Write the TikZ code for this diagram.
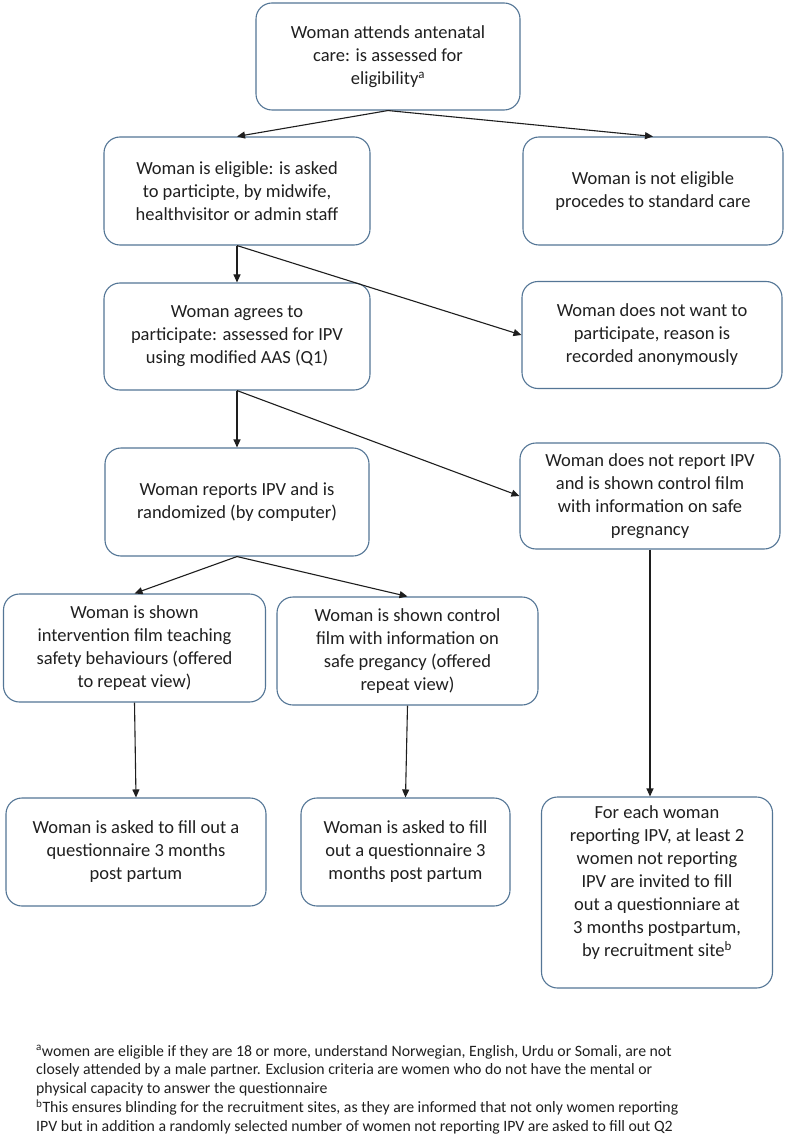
\documentclass[tikz,border=0pt]{standalone}
\usepackage{fontspec}
\setmainfont{Carlito}
\usetikzlibrary{arrows.meta}
\definecolor{bordercol}{RGB}{84,118,150}
\definecolor{textcol}{RGB}{32,32,32}
\definecolor{arrowcol}{RGB}{30,30,30}
\tikzset{
  box/.style={draw=bordercol, line width=1.1pt, rounded corners=16pt, fill=white,
    align=center, text=textcol, inner sep=0pt,
    font=\fontsize{18.5}{23}\selectfont},
  conn/.style={draw=arrowcol, line width=1.1pt, -{Triangle[length=8pt,width=7pt]}}
}
\begin{document}
\begin{tikzpicture}[x=1pt,y=-1pt]
\useasboundingbox[fill=white] (0,0) rectangle (787,1139);

\node[box, minimum width=264pt, minimum height=107pt] (top) at (388,56.5)
  {Woman attends antenatal\\care: is assessed for\\eligibility\textsuperscript{a}};
\node[box, minimum width=266pt, minimum height=108pt] (elig) at (237,191)
  {Woman is eligible: is asked\\to participte, by midwife,\\healthvisitor or admin staff};
\node[box, minimum width=260pt, minimum height=108pt] (notel) at (653,191)
  {Woman is not eligible\\procedes to standard care};
\node[box, minimum width=266pt, minimum height=107pt] (agree) at (237,336.5)
  {Woman agrees to\\participate: assessed for IPV\\using modified AAS (Q1)};
\node[box, minimum width=260pt, minimum height=107pt] (notwant) at (652,335)
  {Woman does not want to\\participate, reason is\\recorded anonymously};
\node[box, minimum width=264pt, minimum height=108pt] (reports) at (237,502)
  {Woman reports IPV and is\\randomized (by computer)};
\node[box, minimum width=260pt, minimum height=106pt] (notreport) at (650,496)
  {Woman does not report IPV\\and is shown control film\\with information on safe\\pregnancy};
\node[box, minimum width=262pt, minimum height=108pt] (interv) at (134.5,648)
  {Woman is shown\\intervention film teaching\\safety behaviours (offered\\to repeat view)};
\node[box, minimum width=261pt, minimum height=108pt] (control) at (407.5,651)
  {Woman is shown control\\film with information on\\safe pregancy (offered\\repeat view)};
\node[box, minimum width=260pt, minimum height=108pt] (qleft) at (136,852)
  {Woman is asked to fill out a\\questionnaire 3 months\\post partum};
\node[box, minimum width=209pt, minimum height=108pt] (qmid) at (405.5,852)
  {Woman is asked to fill\\out a questionnaire 3\\months post partum};
\node[box, minimum width=231pt, minimum height=191pt] (foreach) at (657,892.5)
  {For each woman\\reporting IPV, at least 2\\women not reporting\\IPV are invited to fill\\out a questionniare at\\3 months postpartum,\\by recruitment site\textsuperscript{b}\\\mbox{}};

\draw[conn] (top.south) -- (elig.north);
\draw[conn] (top.south) -- (notel.north);
\draw[conn] (elig.south) -- (agree.north);
\draw[conn] (elig.south) -- (notwant.west);
\draw[conn] (agree.south) -- (reports.north);
\draw[conn] (agree.south) -- (notreport.west);
\draw[conn] (reports.south) -- (interv.north);
\draw[conn] (reports.south) -- (control.north);
\draw[conn] (interv.south) -- (qleft.north);
\draw[conn] (control.south) -- (qmid.north);
\draw[conn] (notreport.south) -- (notreport.south |- foreach.north);

\node[anchor=north west, align=left, inner sep=0pt, text=textcol,
  font=\fontsize{15.8}{18.8}\selectfont] (fn) at (36,1045)
  {\textsuperscript{a}women  are eligible if they are 18 or more, understand Norwegian, English, Urdu or Somali, are not\\
   closely attended by a male partner. Exclusion criteria are women who do not have the  mental or\\
   physical capacity to answer the  questionnaire\\
   \textsuperscript{b}This ensures blinding for the recruitment sites, as they are informed that not only women  reporting\\
   IPV but in addition a randomly selected number  of women  not reporting IPV are asked to fill out Q2};
\end{tikzpicture}
\end{document}
